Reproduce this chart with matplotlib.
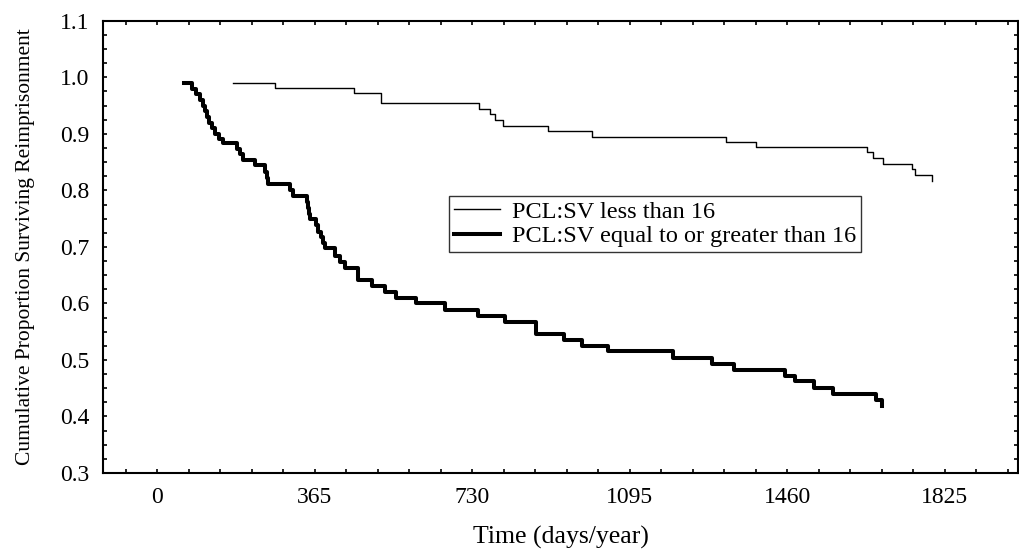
import matplotlib
matplotlib.use("Agg")
import matplotlib.pyplot as plt
from matplotlib.ticker import MultipleLocator

plt.rcParams["font.family"] = ["Liberation Serif", "DejaVu Serif"]

# Kaplan-Meier style step data (days, cumulative proportion surviving)
low_days = [176, 272, 456, 519, 745, 771, 783, 802, 906, 1008, 1318, 1387,
            1646, 1658, 1681, 1750, 1756, 1795]
low_surv = [0.990, 0.981, 0.972, 0.954, 0.944, 0.935, 0.924, 0.914, 0.905,
            0.895, 0.886, 0.876, 0.867, 0.857, 0.847, 0.838, 0.827, 0.817]

high_days = [62, 80, 90, 99, 106, 110, 115, 120, 127, 134, 143, 152, 185, 192,
             199, 226, 250, 254, 257, 307, 314, 346, 349, 352, 355, 369, 372,
             379, 384, 388, 412, 423, 435, 465, 466, 497, 528, 553, 600, 667,
             744, 806, 879, 943, 985, 1045, 1196, 1286, 1337, 1455, 1478,
             1523, 1567, 1666, 1679]
high_surv = [0.990, 0.980, 0.970, 0.960, 0.950, 0.940, 0.930, 0.920, 0.910,
             0.900, 0.890, 0.884, 0.874, 0.864, 0.854, 0.845, 0.833, 0.822,
             0.811, 0.800, 0.790, 0.779, 0.769, 0.759, 0.749, 0.738, 0.727,
             0.717, 0.707, 0.698, 0.684, 0.674, 0.663, 0.652, 0.641, 0.631,
             0.620, 0.609, 0.600, 0.588, 0.578, 0.568, 0.546, 0.535, 0.525,
             0.515, 0.503, 0.493, 0.482, 0.472, 0.462, 0.450, 0.439, 0.429,
             0.419]

x_ticks = [0, 365, 730, 1095, 1460, 1825]

fig = plt.figure(figsize=(10.19, 5.5), dpi=100)
ax = fig.add_axes([0.1014, 0.14, 0.8976, 0.8222])

ax.plot(low_days, low_surv, drawstyle="steps-post", color="black", lw=1.0,
        label="PCL:SV less than 16")
ax.plot(high_days, high_surv, drawstyle="steps-post", color="black", lw=2.9,
        label="PCL:SV equal to or greater than 16")

ax.set_xlim(-125, 1995)
ax.set_ylim(0.3, 1.1)
ax.set_xticks(x_ticks)
ax.xaxis.set_minor_locator(MultipleLocator(73))
ax.yaxis.set_major_locator(MultipleLocator(0.1))
ax.yaxis.set_minor_locator(MultipleLocator(0.025))
ax.yaxis.set_major_formatter(plt.FormatStrFormatter("%.1f"))
ax.tick_params(which="both", direction="in", top=True, right=True,
               length=3, width=1.2, labelsize=17, pad=10)
for s in ax.spines.values():
    s.set_linewidth(1.5)

ax.set_xlabel("Time (days/year)", fontsize=18.5, labelpad=13)
ax.set_ylabel("Cumulative Proportion Surviving Reimprisonment", fontsize=15.5,
              labelpad=18)

leg = ax.legend(loc="upper left", bbox_to_anchor=(0.378, 0.6126),
                fontsize=17.5, frameon=True, fancybox=False,
                edgecolor="black", handlelength=1.9, handletextpad=0.5,
                borderpad=0.2, labelspacing=0.1, borderaxespad=0)
leg.get_frame().set_linewidth(1.0)

fig.savefig("out.png", dpi=100)
